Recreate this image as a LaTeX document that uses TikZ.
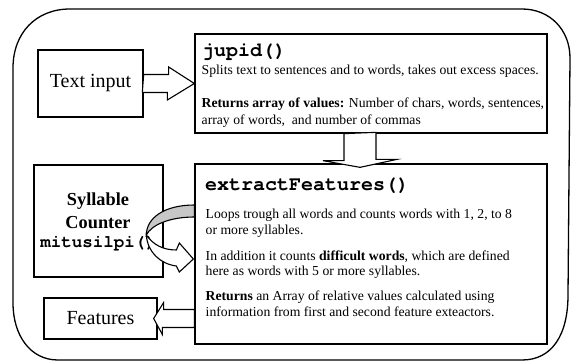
\documentclass[tikz,border=0pt]{standalone}
\usepackage{fontspec}
\setmainfont{Liberation Serif}
\setmonofont{texgyrecursor}[Extension=.otf,UprightFont=*-regular,BoldFont=*-bold]
\begin{document}
\begin{tikzpicture}[x=1pt,y=-1pt,line join=miter,
  frame/.style={draw,line width=1.3pt},
  box/.style={draw,line width=1.3pt,fill=white,inner sep=0pt},
  barrow/.style={draw,line width=1.1pt,fill=white},
  body/.style={anchor=base west,inner sep=0pt,font=\fontsize{13.7}{16}\selectfont},
  title/.style={anchor=base west,inner sep=0pt,font=\fontsize{20}{22}\selectfont\ttfamily\bfseries},
  big/.style={font=\fontsize{20}{22}\selectfont},
  sylfont/.style={anchor=base,inner sep=0pt,font=\fontsize{18.3}{20}\selectfont\bfseries}]
\useasboundingbox (0,0) rectangle (572,363);

% outer frame with uneven corner radii
\draw[frame] (13,68) .. controls (13,33) and (36,9) .. (70,9)
  -- (522,9) .. controls (550,9) and (570,30) .. (570,58)
  -- (568,295) .. controls (568,335) and (552,360) .. (522,360)
  -- (58,360) .. controls (30,360) and (13,335) .. (13,303) -- cycle;

% boxes
\node[box,minimum width=105,minimum height=67,big] (tin) at (90.5,83.5) {Text input};
\node[box,minimum width=352,minimum height=99] (jup) at (371,83.5) {};
\node[box,minimum width=352,minimum height=180] (ext) at (371,254) {};
\node[box,minimum width=129,minimum height=112] (syl) at (98.5,221) {};
\node[box,minimum width=113,minimum height=41,big] (feat) at (100.5,318.5) {Features};

% jupid() text
\node[title] (jt) at (202,56.5) {jupid()};
\node[body] (j1) at (201.5,75) {Splits text to sentences and to words, takes out excess spaces.};
\node[body] (j2) at (201.5,108) {\textbf{Returns array of values:} Number of chars, words, sentences,};
\node[body] (j3) at (201.5,124.5) {array of words,\ \ and number of commas};

% extractFeatures() text
\node[title] (et) at (205,190.5) {extractFeatures()};
\node[body] (e1) at (205.5,218.5) {Loops trough all words and counts words with 1, 2, to 8};
\node[body] (e2) at (205.5,234) {or more syllables.};
\node[body] (e3) at (205.5,260) {In addition it counts \textbf{difficult words}, which are defined};
\node[body] (e4) at (205.5,275.5) {here as words with 5 or more syllables.};
\node[body] (e5) at (205.5,300.5) {\textbf{Returns} an Array of relative values calculated using};
\node[body] (e6) at (205.5,316.5) {information from first and second feature exteactors.};

% syllable counter text
\node[sylfont] (s1) at (98,206) {Syllable};
\node[sylfont] (s2) at (98,228.5) {Counter};
\node[sylfont,font=\fontsize{17.5}{19}\selectfont\ttfamily\bfseries] (s3) at (98,247) {mitusilpi()};

% block arrow: Text input -> jupid()
\draw[barrow] (tin.east) ++(0,-9) -- ++(25,0) -- ++(0,-7.5) -- (jup.west)
  -- ++(-27,16.5) -- ++(0,-7.5) -- ++(-25,0) -- cycle;

% block arrow: jupid() -> extractFeatures()
\draw[barrow] ([xshift=-27pt]jup.south) -- ++(0,27) -- ++(-21,0)
  -- ([xshift=-11pt,yshift=-4pt]ext.north) -- ++(37,-8) -- ++(-21,0) -- ++(0,-27) -- cycle;

% block arrow: extractFeatures() -> Features
\coordinate (fa) at (ext.west |- feat.east);
\coordinate (ftip) at ([xshift=-4pt]feat.east);
\draw[barrow] (ftip) -- ++(10,-16) -- ++(0,7) -- ([yshift=9pt]fa)
  -- ([yshift=-9pt]fa) -- ++(-32,0) -- ++(0,7) -- cycle;

% curved arrow between extractFeatures() and the syllable counter
\begin{scope}[shift={(ext.west)}]
  \draw[line width=1.1pt,fill=black!22] (0,-49) .. controls (-30,-49) and (-48,-36) .. (-48,-19)
    .. controls (-43,-29) and (-25,-37) .. (0,-37) -- cycle;
  \draw[barrow] (-48,-19) .. controls (-41,-9) and (-31,-4) .. (-18,-4)
    -- (-15,-11) -- (-1,5) -- (-15,18) -- (-18,12)
    .. controls (-34,10) and (-47,-2) .. (-48,-19) -- cycle;
\end{scope}
\end{tikzpicture}
\end{document}
